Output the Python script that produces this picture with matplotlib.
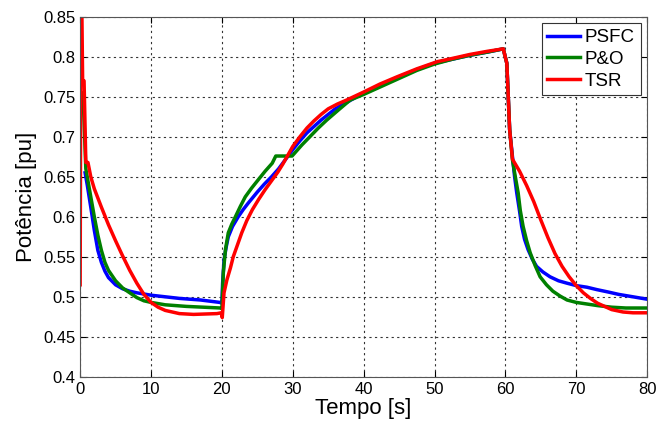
import matplotlib
matplotlib.use("Agg")
import matplotlib.pyplot as plt

plt.rcParams['font.family'] = ['Liberation Sans', 'DejaVu Sans']

# PSFC (azul)
t_psfc = [0.7, 1.0, 1.5, 2.0, 2.5, 3.0, 3.5, 4.0, 5.0, 6.0, 7.0, 8.0, 10, 12, 14,
          17, 19.7, 20.0,
          20.1, 20.3, 20.6, 20.9, 21.5, 22.3, 23.0, 23.7, 25, 26, 27, 28, 29, 30,
          31, 32, 33, 34, 35, 36, 38, 40, 42.5, 45, 47.5, 50, 52.5, 55, 57.5, 59.7,
          60.2, 60.6, 61.0, 61.3, 61.6, 62.0, 62.3, 62.7, 63.2, 63.8, 64.4, 65.3,
          66.3, 67.5, 68.7, 70, 71.5, 72.9, 74.5, 76, 78, 80]
p_psfc = [0.655, 0.64, 0.612, 0.583, 0.558, 0.543, 0.532, 0.524, 0.515, 0.51, 0.507,
          0.505, 0.502, 0.5, 0.498, 0.496, 0.493, 0.492,
          0.517, 0.546, 0.562, 0.575, 0.588, 0.60, 0.609, 0.617, 0.631, 0.641, 0.65,
          0.66, 0.672, 0.684, 0.695, 0.705, 0.713, 0.721, 0.728, 0.735, 0.745, 0.755,
          0.765, 0.775, 0.784, 0.792, 0.797, 0.802, 0.806, 0.81,
          0.792, 0.709, 0.675, 0.65, 0.63, 0.607, 0.588, 0.572, 0.559, 0.547, 0.538,
          0.531, 0.525, 0.52, 0.517, 0.514, 0.512, 0.509, 0.506, 0.503, 0.5, 0.497]

# P&O (verde)
t_po = [0.4, 0.8, 1.2, 1.5, 2.0, 2.5, 3.0, 3.5, 4.0, 5.0, 6.0, 7.0, 8.0, 9.0, 10,
        12, 15, 19.8, 20.0,
        20.2, 20.5, 20.9, 21.4, 21.9, 22.6, 23.3, 24.2, 25.1, 26.1, 27.1, 27.6, 29.9,
        30.6, 31.3, 32.4, 33.6, 34.8, 36.5, 38.1, 40, 42.5, 45, 47.5, 50, 52.5, 55,
        57.5, 59.7,
        60.2, 60.6, 61.0, 61.4, 61.8, 62.1, 62.5, 63.0, 63.5, 64.2, 64.9, 65.8, 66.7,
        67.7, 68.7, 70, 71.5, 73, 75, 77, 80]
p_po = [0.755, 0.66, 0.64, 0.625, 0.60, 0.577, 0.558, 0.543, 0.533, 0.52, 0.511,
        0.505, 0.499, 0.495, 0.493, 0.49, 0.488, 0.486, 0.485,
        0.53, 0.559, 0.58, 0.591, 0.60, 0.613, 0.625, 0.636, 0.646, 0.657, 0.667,
        0.676, 0.676, 0.683, 0.69, 0.70, 0.711, 0.721, 0.734, 0.746, 0.753, 0.763,
        0.773, 0.783, 0.791, 0.797, 0.802, 0.806, 0.81,
        0.792, 0.709, 0.671, 0.65, 0.63, 0.608, 0.588, 0.57, 0.555, 0.539, 0.525,
        0.515, 0.507, 0.501, 0.496, 0.493, 0.491, 0.489, 0.487, 0.486, 0.486]

# TSR (vermelho)
t_tsr = [0, 0.1, 0.25, 0.35, 0.55, 0.7, 0.8, 1.1, 1.5, 2.0, 3.0, 4.0, 5.0, 6.0,
         7.0, 8.0, 9.0, 10, 11, 12, 13, 14, 16, 19.3, 19.9,
         20.05, 20.3, 20.7, 21.2, 21.6, 22.2, 22.8, 23.5, 24.3, 25.2, 26.1, 27.0,
         27.9, 28.6, 29.3, 30, 31, 32, 33, 34, 35, 36.3, 37.6, 40, 42.3, 44.7, 47.5,
         50.4, 52.5, 55, 57.5, 59.7,
         60.2, 60.6, 61.0, 62.0, 63.0, 64.0, 65.0, 66.0, 67.0, 68.0, 69.0, 70.0,
         71.0, 72.0, 73.0, 74.0, 75.0, 76.6, 78, 80]
p_tsr = [0.515, 0.85, 0.85, 0.77, 0.77, 0.71, 0.668, 0.668, 0.65, 0.635, 0.612,
         0.59, 0.57, 0.551, 0.533, 0.517, 0.503, 0.493, 0.487, 0.483, 0.481, 0.479,
         0.478, 0.479, 0.48,
         0.474, 0.505, 0.521, 0.536, 0.55, 0.565, 0.58, 0.595, 0.609, 0.622, 0.634,
         0.645, 0.656, 0.666, 0.677, 0.688, 0.70, 0.711, 0.72, 0.728, 0.735, 0.741,
         0.746, 0.756, 0.766, 0.775, 0.785, 0.794, 0.798, 0.803, 0.807, 0.81,
         0.792, 0.709, 0.672, 0.657, 0.639, 0.619, 0.596, 0.574, 0.554, 0.538,
         0.525, 0.514, 0.505, 0.498, 0.492, 0.488, 0.484, 0.481, 0.48, 0.48]

xticks = [0, 10, 20, 30, 40, 50, 60, 70, 80]
yticks = [0.4, 0.45, 0.5, 0.55, 0.6, 0.65, 0.7, 0.75, 0.8, 0.85]
yticklabels = ['0.4', '0.45', '0.5', '0.55', '0.6', '0.65', '0.7', '0.75', '0.8', '0.85']

fig = plt.figure(figsize=(6.57, 4.21), dpi=100)
ax = fig.add_axes([0.122, 0.105, 0.863, 0.855])

ax.plot(t_psfc, p_psfc, color=(0, 0, 1), lw=2.5, label='PSFC')
ax.plot(t_po, p_po, color=(0, 0.5, 0), lw=2.5, label='P&O')
ax.plot(t_tsr, p_tsr, color=(1, 0, 0), lw=2.5, label='TSR')

ax.set_xlim(0, 80)
ax.set_ylim(0.4, 0.85)
ax.set_xticks(xticks)
ax.set_yticks(yticks)
ax.set_yticklabels(yticklabels)
ax.tick_params(direction='in', top=True, right=True, labelsize=12, length=4)
ax.grid(True, color='#333333', linestyle=(0, (2, 3)), linewidth=0.8)
for s in ax.spines.values():
    s.set_color('#555555')

ax.set_xlabel('Tempo [s]', fontsize=16, labelpad=1)
ax.set_ylabel('Potência [pu]', fontsize=16, labelpad=4)

leg = ax.legend(loc='upper right', fontsize=13.5, fancybox=False, framealpha=1,
                edgecolor='#333333', borderpad=0.3, handlelength=1.75,
                handletextpad=0.25, labelspacing=0.25, borderaxespad=0.35)
leg.get_frame().set_linewidth(0.8)

fig.savefig('out.png', dpi=100)
